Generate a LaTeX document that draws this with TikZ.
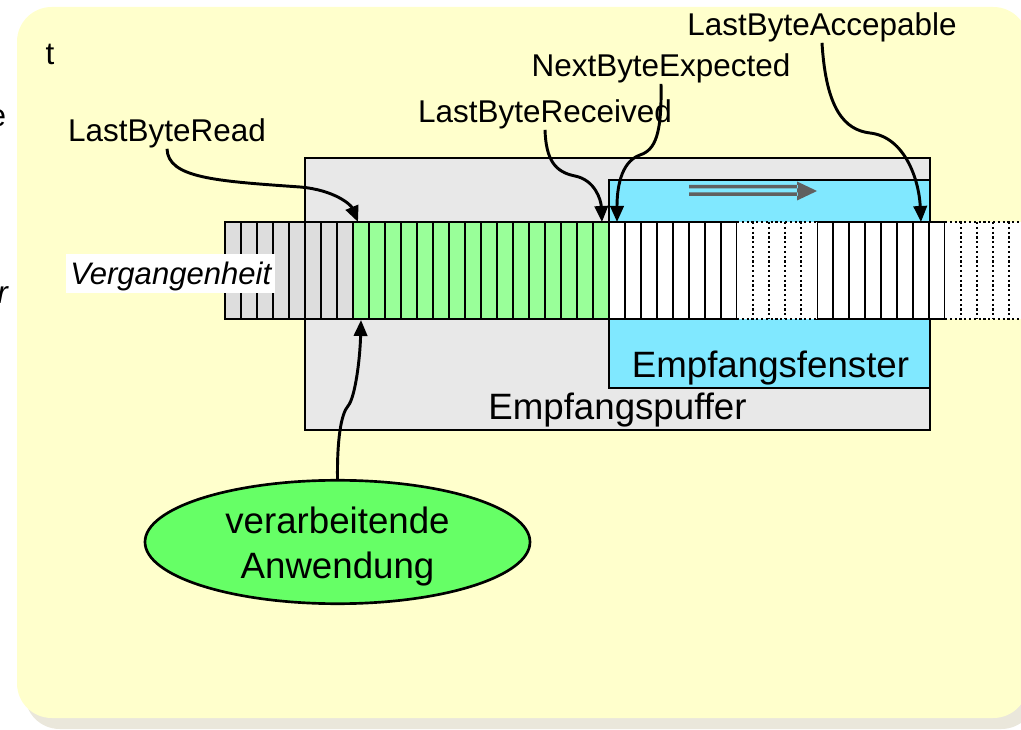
\documentclass[tikz,border=0pt]{standalone}
\usepackage{fontspec}
\setmainfont{Liberation Sans}
\usetikzlibrary{arrows.meta,shapes.geometric}

\definecolor{bgyellow}{RGB}{255,255,204}
\definecolor{bgshadow}{RGB}{234,231,219}
\definecolor{bufgray}{RGB}{232,232,232}
\definecolor{oldgray}{RGB}{221,221,221}
\definecolor{readgreen}{RGB}{153,255,153}
\definecolor{wincyan}{RGB}{128,232,255}
\definecolor{appgreen}{RGB}{102,255,102}
\definecolor{movegray}{RGB}{96,96,96}

\begin{document}
\begin{tikzpicture}[x=0.75pt,y=-0.75pt,
  cell/.style={draw=black,line width=1.6pt},
  region/.style={draw=black,line width=2pt},
  pointer/.style={draw=black,line width=2.2pt,-{Triangle[length=12pt,width=10pt]}},
  lbl/.style={inner sep=0pt,anchor=base,font=\fontsize{23.6pt}{28pt}\selectfont},
  big/.style={inner sep=0pt,anchor=base,font=\fontsize{27.5pt}{33pt}\selectfont},
]
\useasboundingbox (0,0) rectangle (1021,730);

% card with its shadow
\fill[bgshadow, rounded corners=26pt] (25,17) rectangle (1036,729);
\fill[bgyellow, rounded corners=26pt] (17,7) rectangle (1028,718);

% receive buffer and receive window
\draw[region, fill=bufgray] (305,158) rectangle (930,430);
\draw[region, fill=wincyan] (609,180) rectangle (930,388);

% window moves to the right
\fill[movegray] (689,185) rectangle (798,188.5)
                (689,192.5) rectangle (798,196)
                (797,181.5) -- (817,191) -- (797,200.5) -- cycle;

% byte stream: already read, buffered, free
\foreach \i in {0,...,7}   \draw[cell, fill=oldgray]   ({225+16*\i},222) rectangle ++(16,97);
\foreach \i in {8,...,23}  \draw[cell, fill=readgreen] ({225+16*\i},222) rectangle ++(16,97);
\foreach \i in {24,...,31} \draw[cell, fill=white]     ({225+16*\i},222) rectangle ++(16,97);
\foreach \i in {37,...,44} \draw[cell, fill=white]     ({225+16*\i},222) rectangle ++(16,97);
% not yet arrived (dotted cells)
\fill[white] (737,222) rectangle (817,319);
\draw[cell, dotted] (737,222) -- (817,222) (737,319) -- (817,319);
\foreach \x in {753,769,785,801} \draw[cell, dotted] (\x,222) -- (\x,319);
\fill[white] (945,222) rectangle (1035,319);
\draw[cell, dotted] (945,222) -- (1035,222) (945,319) -- (1035,319);
\foreach \x in {961,977,993,1009,1025} \draw[cell, dotted] (\x,222) -- (\x,319);

% labels
\node[lbl, anchor=base east] (fragE) at (6.5,127) {e};
\node[lbl, anchor=base east, font=\fontsize{23.6pt}{28pt}\selectfont\itshape] (fragR) at (8,304) {r};
\node[lbl] (tmark) at (50,65) {t};
\node[lbl] (lbread) at (167,142) {LastByteRead};
\node[lbl] (lbrecv) at (545,123) {LastByteReceived};
\node[lbl] (nbexp) at (661,77) {NextByteExpected};
\node[lbl] (lbacc) at (822,36) {LastByteAccepable};
\node[big] (win) at (770.5,378) {Empfangsfenster};
\node[big] (buf) at (617.5,420) {Empfangspuffer};
\node[font=\fontsize{23.3pt}{28pt}\selectfont\itshape, fill=white, inner xsep=3pt, inner ysep=0pt,
      text height=23pt, text depth=6pt, anchor=base west] (past) at (66,285) {Vergangenheit};

% reading application
\node[ellipse, draw=black, line width=2pt, fill=appgreen, minimum width=288.75pt, minimum height=72pt,
      inner sep=0pt, align=center, font=\fontsize{27.5pt}{33.75pt}\selectfont] (app) at (337.5,542)
      {\rule{0pt}{26pt}verarbeitende\\Anwendung};

% pointer targets
\coordinate (readTip) at (358,222);
\coordinate (recvTip) at (602,222);
\coordinate (nextTip) at (617,222);
\coordinate (accTip) at (921,222);
\coordinate (appTip) at (361,320);

\draw[pointer] (lbread.south) .. controls (168,178) and (215,181) .. (300,187)
               .. controls (335,190) and (351,205) .. (readTip);
\draw[pointer] (lbrecv.south) .. controls (546,160) and (555,172) .. (575,176)
               .. controls (595,180) and (601,200) .. (recvTip);
\draw[pointer] (nbexp.south) .. controls (662,135) and (655,150) .. (640,155)
               .. controls (620,162) and (617,190) .. (nextTip);
\draw[pointer] (lbacc.south) .. controls (826,110) and (845,130) .. (870,133)
               .. controls (905,137) and (919,180) .. (accTip);
\draw[pointer] (app.north) .. controls (337,440) and (341,414) .. (348,406)
               .. controls (355,398) and (360,360) .. (appTip);
\end{tikzpicture}
\end{document}
